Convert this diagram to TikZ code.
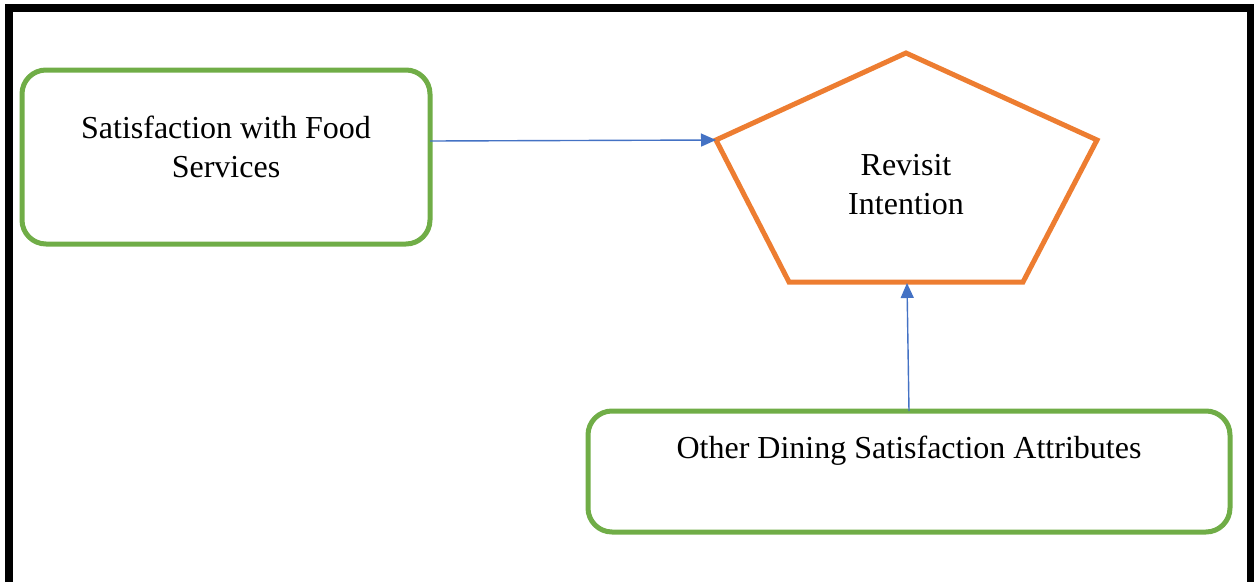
\documentclass[tikz,border=0pt]{standalone}
\usepackage{fontspec}
\setmainfont{Liberation Serif}
\usetikzlibrary{arrows.meta}
\definecolor{boxgreen}{HTML}{70AD47}
\definecolor{pentorange}{HTML}{ED7D31}
\definecolor{arrowblue}{HTML}{4472C4}
\begin{document}
\begin{tikzpicture}[x=1pt,y=-1pt,
  factor/.style={draw=boxgreen,line width=5pt,rounded corners=24pt},
  label/.style={font=\fontsize{32}{39}\selectfont,align=center},
  link/.style={draw=arrowblue,line width=1.4pt,-{Triangle[length=15pt,width=13pt]}}]
\useasboundingbox (0,0) rectangle (1254,582);
% outer frame, open at the bottom
\draw[line width=8pt] (9,582) -- (9,8) -- (1250.5,8) -- (1250.5,582);
% left factor
\draw[factor] (22,70) rectangle (430,244);
\node[label] (food) at (226,147) {Satisfaction with Food\\Services};
% lower factor
\draw[factor] (588,411) rectangle (1230,532);
\node[label] (other) at (909,451) {Other Dining Satisfaction Attributes};
% outcome pentagon
\coordinate (pt) at (906,53);
\coordinate (pr) at (1097,140);
\coordinate (pbr) at (1023,282);
\coordinate (pbl) at (789,282);
\coordinate (pl) at (716,140);
\draw[pentorange,line width=5pt,line join=miter] (pt) -- (pr) -- (pbr) -- (pbl) -- (pl) -- cycle;
\node[label] (rev) at (906,185) {Revisit\\Intention};
% connectors
\coordinate (foodout) at (430,141);
\coordinate (otherout) at (909,411);
\coordinate (revin) at (907,283);
\draw[link] (foodout) -- (pl);
\draw[link] (otherout) -- (revin);
\end{tikzpicture}
\end{document}
